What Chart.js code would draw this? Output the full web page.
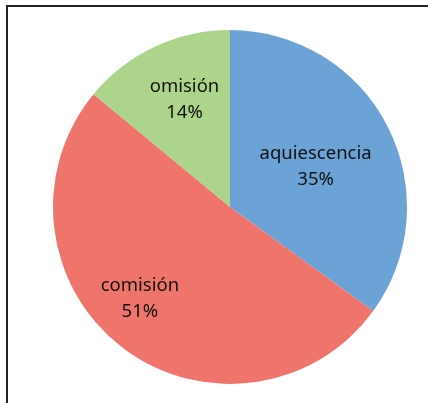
<!DOCTYPE html>
<html>
<head>
<meta charset="utf-8">
<script src="https://cdn.jsdelivr.net/npm/chart.js@4.4.1/dist/chart.umd.min.js"></script>
<style>
  body { margin: 0; background: #fff; width: 428px; height: 403px; overflow: hidden; position: relative; }
  #marco { position: absolute; left: 6px; top: 5px; width: 440px; height: 420px; border-left: 2px solid #222; border-top: 2px solid #222; }
  #grafica { position: absolute; left: 53px; top: 30px; }
</style>
</head>
<body>
<div id="marco"></div>
<canvas id="grafica" width="354" height="354"></canvas>
<script>
const categorias = ["aquiescencia", "comisión", "omisión"];
const valores = [35, 51, 14];
const colores = ["#6ca3d6", "#ef756c", "#acd48a"];

// distancia de la etiqueta al centro (fraccion del radio) y ajuste en px
const distEtiqueta = [0.53, 0.72, 0.67];
const ajusteX = [2, -12, 5];
const ajusteY = [2, -9, 0];

const etiquetas = {
    id: "etiquetas",
    afterDatasetsDraw(chart) {
        const ctx = chart.ctx;
        const meta = chart.getDatasetMeta(0);
        ctx.save();
        ctx.fillStyle = "#111";
        ctx.font = "18.5px 'Noto Sans'";
        ctx.textAlign = "center";
        ctx.textBaseline = "middle";
        meta.data.forEach(function (arc, i) {
            const ang = (arc.startAngle + arc.endAngle) / 2;
            const r = arc.outerRadius * distEtiqueta[i];
            const x = arc.x + Math.cos(ang) * r + ajusteX[i];
            const y = arc.y + Math.sin(ang) * r + ajusteY[i];
            ctx.fillText(categorias[i], x, y - 13);
            ctx.fillText(valores[i] + "%", x, y + 13);
        });
        ctx.restore();
    }
};

new Chart(document.getElementById("grafica"), {
    type: "pie",
    data: {
        labels: categorias,
        datasets: [{
            data: valores,
            backgroundColor: colores,
            borderWidth: 0
        }]
    },
    options: {
        responsive: false,
        animation: false,
        layout: { padding: 0 },
        plugins: {
            legend: { display: false },
            tooltip: { enabled: false }
        }
    },
    plugins: [etiquetas]
});
</script>
</body>
</html>
